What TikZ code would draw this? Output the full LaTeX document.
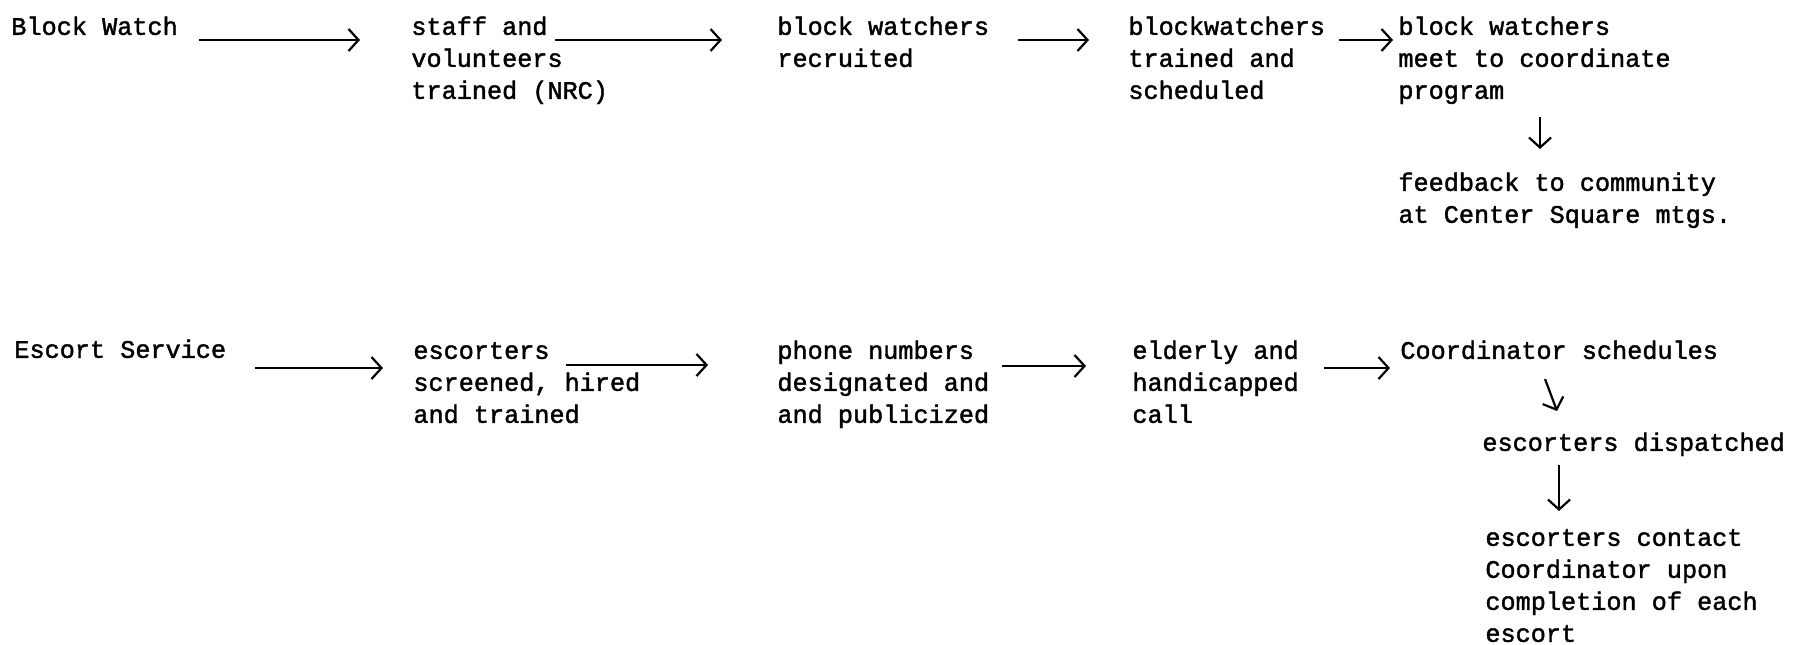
\documentclass[tikz,border=0pt]{standalone}
\usepackage{fontspec}
\setmonofont[FakeBold=1.6]{Liberation Mono}
\usetikzlibrary{arrows.meta,calc}
\tikzset{
  txt/.style={anchor=north west,inner sep=0pt,align=left,font=\ttfamily\fontsize{12.6}{16}\selectfont},
  arr/.style={line width=1.1pt,-{Straight Barb[length=5pt,width=11pt,line width=1.1pt]}}
}
\begin{document}
\begin{tikzpicture}[x=0.5pt,y=-0.5pt]
\useasboundingbox (0,0) rectangle (1802,644);
% Row 1
\node[txt] (bw) at (11,12) {\strut Block Watch};
\node[txt] (sv) at (411,12) {\strut staff and\\volunteers\\trained (NRC)};
\node[txt] (br) at (777,12) {\strut block watchers\\recruited};
\node[txt] (bt) at (1128,12) {\strut blockwatchers\\trained and\\scheduled};
\node[txt] (bm) at (1398,12) {\strut block watchers\\meet to coordinate\\program};
\node[txt] (fb) at (1398,168) {\strut feedback to community\\at Center Square mtgs.};
\draw[arr] ($(bw.north west)+(188,28)$) -- ($(sv.north west)+(-51,28)$);
\draw[arr] ($(sv.north west)+(144,28)$) -- ($(br.north west)+(-55,28)$);
\draw[arr] ($(br.north west)+(241,28)$) -- ($(bt.north west)+(-39,28)$);
\draw[arr] ($(bt.north west)+(211,28)$) -- ($(bm.north west)+(-5,28)$);
\draw[arr] ($(bm.north west)+(142,105)$) -- ($(fb.north west)+(142,-19)$);
% Row 2
\node[txt] (es) at (14,335) {\strut Escort Service};
\node[txt] (sc) at (413,336) {\strut escorters\\screened, hired\\and trained};
\node[txt] (pn) at (777,336) {\strut phone numbers\\designated and\\and publicized};
\node[txt] (eh) at (1132,336) {\strut elderly and\\handicapped\\call};
\node[txt] (cs) at (1400,336) {\strut Coordinator schedules};
\node[txt] (ed) at (1482,428) {\strut escorters dispatched};
\node[txt] (ec) at (1485,523) {\strut escorters contact\\Coordinator upon\\completion of each\\escort};
\draw[arr] ($(es.north west)+(241,33)$) -- ($(sc.north west)+(-30,32)$);
\draw[arr] ($(sc.north west)+(153,29)$) -- ($(pn.north west)+(-69,29)$);
\draw[arr] ($(pn.north west)+(225,30)$) -- ($(eh.north west)+(-46,30)$);
\draw[arr] ($(eh.north west)+(192,32)$) -- ($(cs.north west)+(-10,32)$);
\draw[arr] ($(cs.north west)+(145,43)$) -- ($(ed.north west)+(75,-17)$);
\draw[arr] ($(ed.north west)+(77,37)$) -- ($(ec.north west)+(74,-12)$);
\end{tikzpicture}
\end{document}
